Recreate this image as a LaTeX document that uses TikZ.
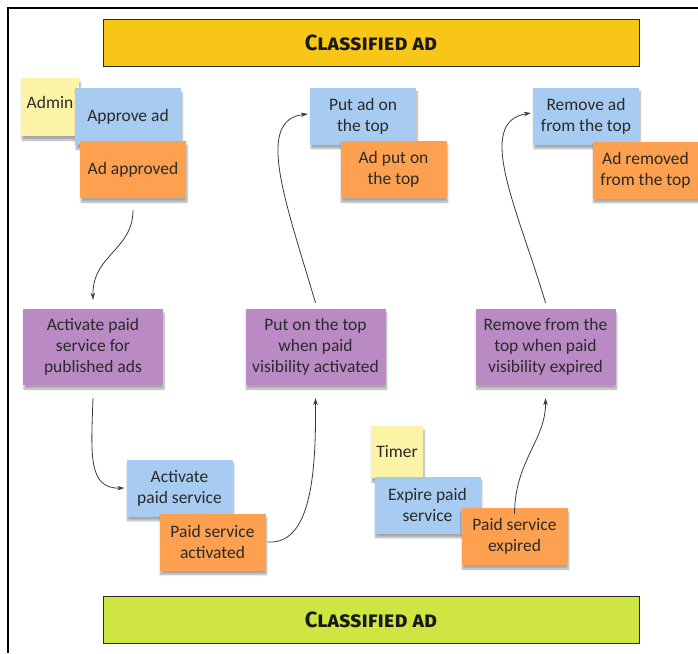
\documentclass[tikz,border=0pt]{standalone}
\usepackage{fontspec}
\setmainfont{Carlito}
\newfontfamily\bannerfont[Letters=SmallCaps]{Fira Sans}
\usetikzlibrary{arrows.meta,shadows.blur}

\definecolor{noteyellow}{HTML}{FCF3A6}
\definecolor{noteblue}{HTML}{A7CBF1}
\definecolor{noteorange}{HTML}{FDA04F}
\definecolor{notepurple}{HTML}{B98AC3}
\definecolor{bannergold}{HTML}{F8C616}
\definecolor{bannerlime}{HTML}{CFE642}
\definecolor{inkgray}{HTML}{2A2A2A}
\definecolor{linegray}{HTML}{3A3A3A}

\tikzset{
  note/.style={rectangle, inner sep=0pt, align=center, text=inkgray,
    font=\fontsize{17.5}{21}\selectfont,
    blur shadow={shadow xshift=1pt, shadow yshift=-4pt, shadow blur steps=6, shadow opacity=35}},
  small/.style={note, minimum width=106pt, minimum height=57pt},
  wide/.style={note, minimum width=140pt, minimum height=76pt, fill=notepurple},
  actor/.style={note, fill=noteyellow},
  command/.style={small, fill=noteblue},
  event/.style={small, fill=noteorange},
  banner/.style={rectangle, draw=inkgray, line width=1pt, minimum width=536pt,
    minimum height=47pt, inner sep=0pt, text=black!90,
    font=\bannerfont\bfseries\fontsize{22}{24}\selectfont},
  flow/.style={draw=linegray, line width=0.8pt, -{Stealth[length=7pt,width=4.5pt]}}
}

\begin{document}
\begin{tikzpicture}[x=1pt,y=-1pt]
\useasboundingbox (0,0) rectangle (698,653);

% outer frame
\draw[line width=2.5pt, black] (8,653) -- (8,8) -- (698,8);

% swimlane banners
\node[banner, fill=bannergold] (topbanner) at (371,42.5) {Classified ad};
\node[banner, fill=bannerlime] (bottombanner) at (371,619.5) {Classified ad};

% approval
\node[actor, minimum width=58pt, minimum height=58pt, text depth=9pt] (admin) at (50,107) {Admin};
\node[command] (approve) at (128,116.5) {Approve ad};
\node[event] (approved) at (133,169.5) {Ad approved};

% put on top
\node[command] (putad) at (363,116) {Put ad on\\the top};
\node[event] (adput) at (393.5,169.5) {Ad put on\\the top};

% remove from top
\node[command] (removead) at (586,116) {Remove ad\\from the top};
\node[event] (adremoved) at (645.5,170) {Ad removed\\from the top};

% policies
\node[wide] (activatepolicy) at (93,347) {Activate paid\\service for\\published ads};
\node[wide] (putpolicy) at (315.5,347) {Put on the top\\when paid\\visibility activated};
\node[wide] (removepolicy) at (545.5,347) {Remove from the\\top when paid\\visibility expired};

% paid service activation
\node[command] (activate) at (179.5,488) {Activate\\paid service};
\node[event] (activated) at (212.5,542) {Paid service\\activated};

% expiry
\node[actor, minimum width=52pt, minimum height=52pt] (timer) at (397,452) {Timer};
\node[command] (expire) at (427.5,505) {Expire paid\\service};
\node[event] (expired) at (514.5,536.5) {Paid service\\expired};

% flows
\draw[flow] ([xshift=0pt,yshift=-12pt]approved.south) .. controls (133,250) and (92,255) .. ([yshift=9pt]activatepolicy.north);
\draw[flow] ([yshift=-13pt]activatepolicy.south) .. controls (91,455) and (88,489) .. ([xshift=-2pt]activate.west);
\draw[flow] ([xshift=2pt]activated.east) .. controls (312,545) and (316,470) .. ([yshift=-13pt]putpolicy.south);
\draw[flow] ([yshift=6pt]putpolicy.north) .. controls (285,200) and (255,120) .. ([xshift=-2pt,yshift=2pt]putad.west);
\draw[flow] ([yshift=-6pt]expired.north) .. controls (515,460) and (546,440) .. ([yshift=-13pt]removepolicy.south);
\draw[flow] ([yshift=6pt]removepolicy.north) .. controls (518,210) and (474,122) .. ([xshift=-2pt,yshift=3pt]removead.west);

\end{tikzpicture}
\end{document}
